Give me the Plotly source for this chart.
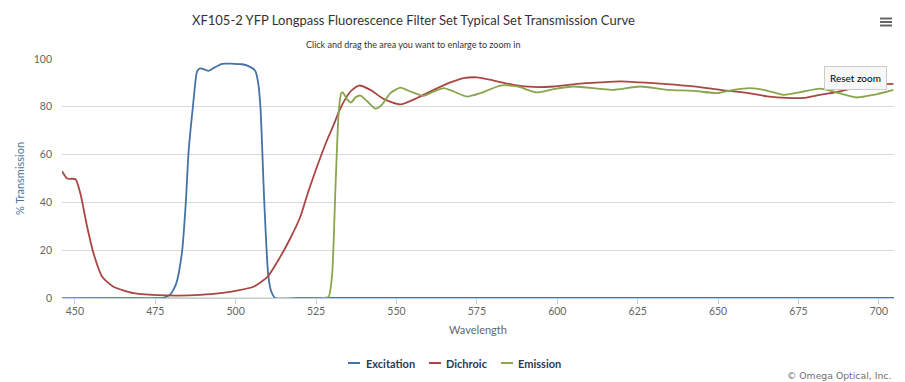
import plotly.graph_objects as go

# ---- data ----
exc_wl = [446, 470, 476, 478, 479.7, 481.5, 483.3, 484.5, 485.4, 486.7, 488, 488.8, 490, 491.6,
          493.5, 495.8, 499.4, 502, 504, 506.1, 507, 507.7, 508.9, 510.1, 511, 512.3, 520, 705]
exc_val = [0, 0, 0, 0.3, 1.5, 6, 19, 40, 62, 80, 94.8, 96, 95.8, 95,
           96.5, 98, 98, 97.8, 97, 95, 90, 80, 40, 10, 3, 0, 0, 0]

dic_wl = [446, 447.6, 450.2, 451.7, 453.8, 455.8, 458.5, 462, 468.3, 475.6, 481.8, 489, 495.2,
          500.4, 505.5, 509.8, 513.9, 517, 520.1, 522.7, 525.3, 528.4, 530.5, 532.6, 535.7, 538.3,
          541.9, 546.1, 551.2, 556.4, 561.6, 566.8, 570.9, 575, 580.2, 586.4, 592.6, 598.8, 606.1,
          613.3, 619.6, 625.8, 634.1, 642.4, 650.7, 659, 665.2, 671.4, 676.6, 681.7, 687.9, 694.2,
          700, 704.5]
dic_val = [53, 50, 49.7, 43.8, 29.9, 18.7, 8.9, 4.7, 2, 1.2, 1, 1.3, 2,
           3.1, 4.7, 8.7, 17.3, 25, 34, 45, 55, 66, 72.5, 79.5, 86.4, 88.9,
           87.1, 83.2, 81.0, 83.7, 87.1, 90.2, 92, 92.3, 91, 89.2, 88.3, 88.5, 89.6,
           90.2, 90.6, 90.2, 89.5, 88.5, 87.1, 85.8, 84.4, 83.7, 83.7, 85, 86.4, 88.5,
           89.5, 89.6]

emi_wl = [446, 527, 528.9, 530, 531, 532, 532.8, 533.3, 534.7, 535.9, 537.3, 538.8, 540.9, 543.5,
          545.5, 548.1, 551.2, 554.3, 558.4, 561.6, 564.7, 567.8, 571.9, 576.1, 582.3, 587.5, 593.7,
          598.8, 605, 613.3, 617.5, 625.8, 634.1, 642.4, 649.7, 654.8, 660, 664.2, 670.4, 676.6,
          681.7, 685.9, 693.1, 698.4, 704.5]
emi_val = [0, 0, 0.5, 10, 45, 77, 85.7, 86.0, 83, 81.8, 84, 84.7, 82.3, 79.2,
           80.9, 85.7, 88.0, 86.4, 84.6, 86.4, 87.8, 86.4, 84.3, 85.7, 88.9, 88.5, 86,
           87.4, 88.5, 87.5, 87.1, 88.5, 87.1, 86.7, 85.7, 87.1, 87.8, 87.1, 85, 86.4,
           87.6, 86.4, 83.9, 85, 87.1]

series_names = ["Excitation", "Dichroic", "Emission"]
series_colors = ["#4572A7", "#AA4643", "#89A54E"]
x_ticks = [450, 475, 500, 525, 550, 575, 600, 625, 650, 675, 700]
y_ticks = [0, 20, 40, 60, 80, 100]

FONT = "Lato, Open Sans, sans-serif"
OFF = 8  # page body margin offset
W, H = 905, 382
# target plot box in window pixels
PL, PR, PT, PB = 62, 894, 59, 298
L, T = PL - OFF, PT - OFF
R = W - (PR - OFF)
B = H - (PB - OFF)
PW, PH = W - L - R, H - T - B


def px(xp):
    return (xp - PL) / PW


def py(yp):
    return (PB - yp) / PH


fig = go.Figure()
for name, xs, ys, col in zip(series_names, [exc_wl, dic_wl, emi_wl],
                             [exc_val, dic_val, emi_val], series_colors):
    fig.add_trace(go.Scatter(x=xs, y=ys, name=name, mode="lines", showlegend=False,
                             line=dict(color=col, width=1.8, shape="spline", smoothing=0.6)))

annotations = [
    dict(text="XF105-2 YFP Longpass Fluorescence Filter Set Typical Set Transmission Curve",
         xref="paper", yref="paper", x=px(413), y=py(20),
         xanchor="center", yanchor="middle", showarrow=False,
         font=dict(family=FONT, size=13, color="#333333")),
    dict(text="Click and drag the area you want to enlarge to zoom in",
         xref="paper", yref="paper", x=px(412.5), y=py(44),
         xanchor="center", yanchor="middle", showarrow=False,
         font=dict(family=FONT, size=9, color="#333333")),
    dict(text="© Omega Optical, Inc.",
         xref="paper", yref="paper", x=px(893), y=py(375),
         xanchor="right", yanchor="middle", showarrow=False,
         font=dict(family="DejaVu Sans, sans-serif", size=9.3, color="#707070")),
    dict(text="Reset zoom",
         xref="paper", yref="paper", x=px(855), y=py(78),
         xanchor="center", yanchor="middle", showarrow=False,
         font=dict(family=FONT, size=10, color="#000000"),
         bgcolor="#f7f7f7", bordercolor="#cccccc", borderwidth=1, borderpad=5),
]
shapes = [
    dict(type="line", xref="paper", yref="paper",
         x0=px(880), x1=px(892), y0=py(yy), y1=py(yy),
         line=dict(color="#666666", width=2))
    for yy in (18.5, 22, 25.5)
]

# custom legend (short symbol lines as in the original)
leg_line_x = [348, 429, 501]
leg_text_x = [365, 445, 517]
LEG_Y = 363
for name, col, lx, tx in zip(series_names, series_colors, leg_line_x, leg_text_x):
    shapes.append(dict(type="line", xref="paper", yref="paper",
                       x0=px(lx), x1=px(lx + 12), y0=py(LEG_Y), y1=py(LEG_Y),
                       line=dict(color=col, width=2)))
    annotations.append(dict(text="<b>%s</b>" % name, xref="paper", yref="paper",
                            x=px(tx - 1), y=py(LEG_Y), xanchor="left", yanchor="middle",
                            showarrow=False,
                            font=dict(family=FONT, size=11, color="#2b3a4f")))

fig.update_layout(
    width=W, height=H,
    margin=dict(l=L, r=R, t=T, b=B),
    paper_bgcolor="white", plot_bgcolor="white",
    font=dict(family=FONT, size=11, color="#666666"),
    showlegend=False,
    xaxis=dict(range=[446, 704.7], tickvals=x_ticks, showgrid=False, zeroline=False,
               automargin=False,
               showline=True, linecolor="#C0D0E0", linewidth=1,
               ticks="outside", ticklen=5, tickcolor="#C0D0E0",
               ticklabelstandoff=-2,
               tickfont=dict(size=10.5, color="#666666"),
               title=dict(text="Wavelength", font=dict(size=11, color="#666666"), standoff=10)),
    yaxis=dict(range=[0, 100], tickvals=y_ticks, showgrid=True, gridcolor="#D8D8D8",
               zeroline=False, showline=False, ticks="", automargin=False,
               ticklabelstandoff=9,
               tickfont=dict(size=10.5, color="#666666"),
               title=dict(text="% Transmission", font=dict(size=11, color="#4d759e"), standoff=6)),
    annotations=annotations,
    shapes=shapes,
)

fig.write_html("out.html")
